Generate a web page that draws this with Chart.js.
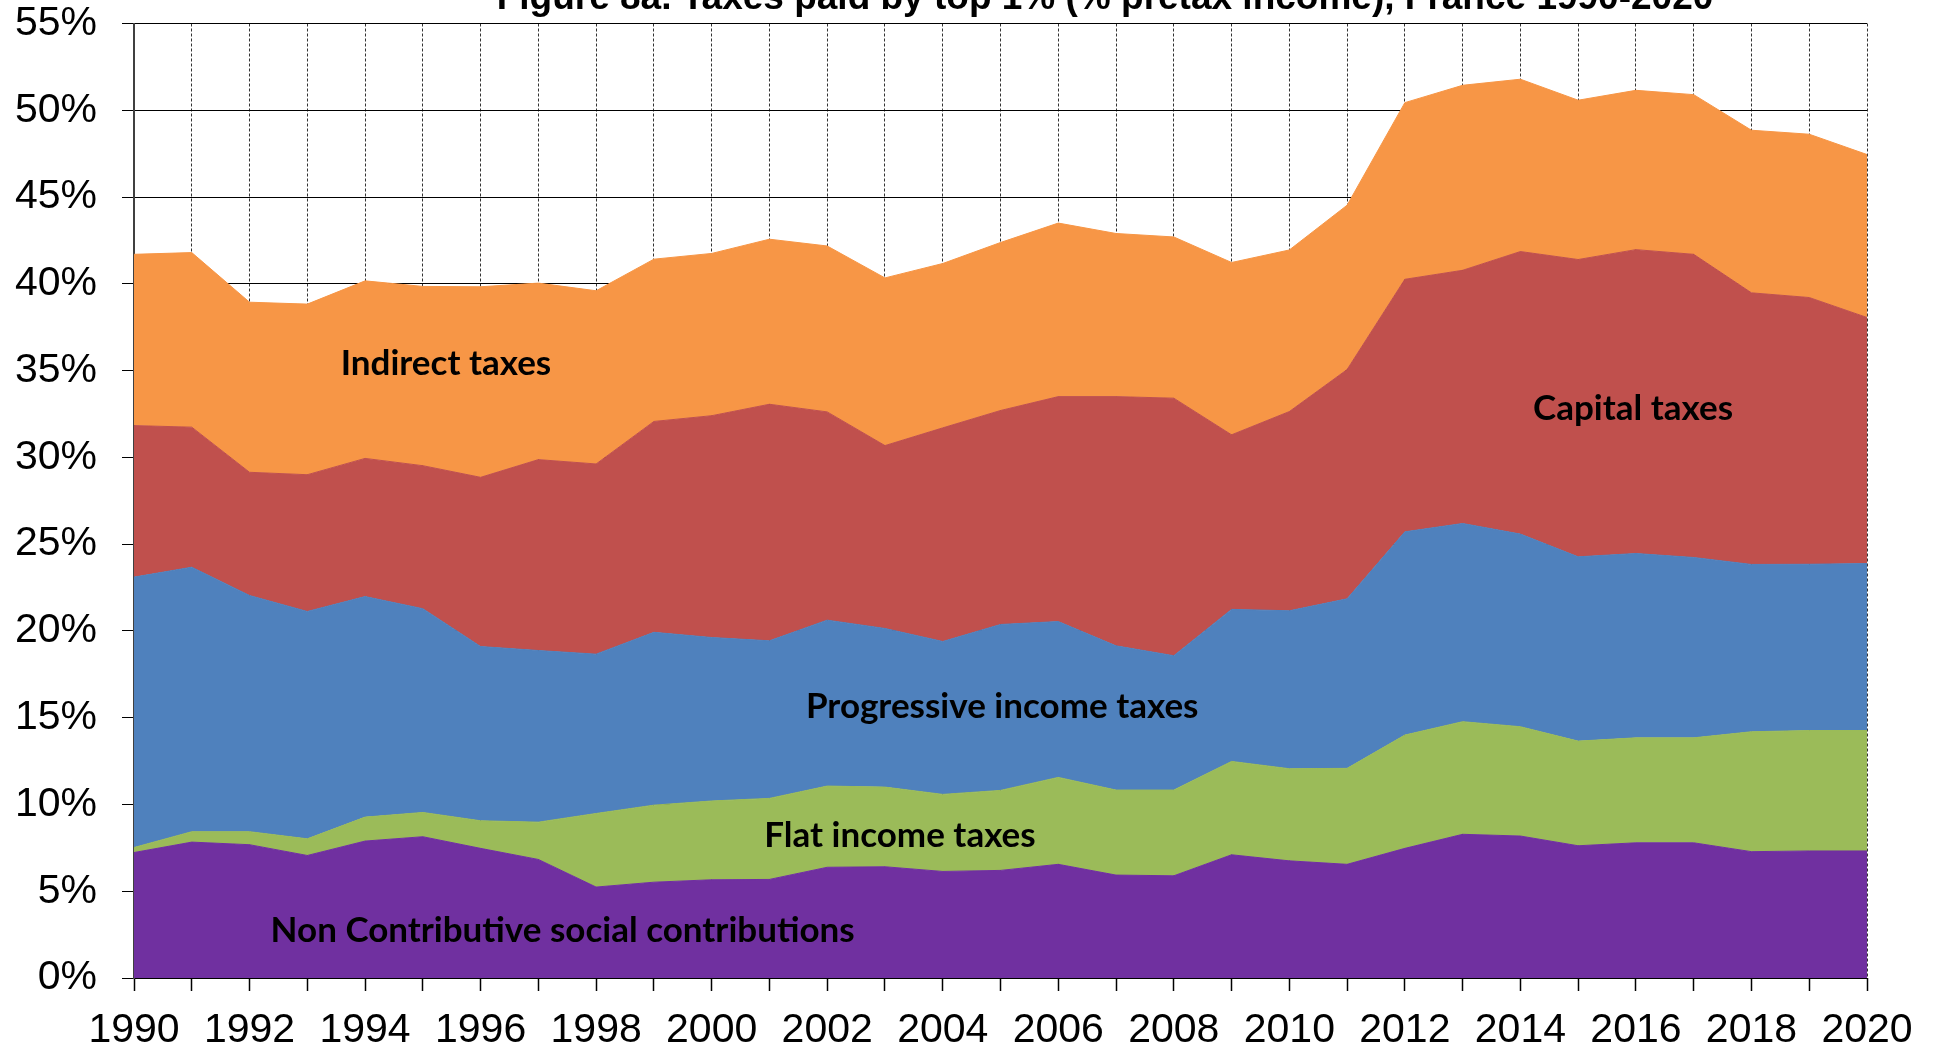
<!DOCTYPE html>
<html>
<head>
<meta charset="utf-8">
<title>Taxes paid by top 1%, France 1990-2020</title>
<script src="https://cdn.jsdelivr.net/npm/chart.js@4.4.1/dist/chart.umd.min.js"></script>
<style>
  html, body { margin: 0; padding: 0; background: #fff; }
  #chart { display: block; }
</style>
</head>
<body>
<canvas id="chart" width="1939" height="1051"></canvas>
<script>
// values are % of pretax income, one entry per year, stacked bottom to top
const years = ['1990', '1991', '1992', '1993', '1994', '1995', '1996', '1997', '1998', '1999',
               '2000', '2001', '2002', '2003', '2004', '2005', '2006', '2007', '2008', '2009',
               '2010', '2011', '2012', '2013', '2014', '2015', '2016', '2017', '2018', '2019', '2020'];

const nonContributive = [7.23, 7.83, 7.68, 7.06, 7.89, 8.14, 7.47, 6.83, 5.24, 5.52,
                         5.66, 5.68, 6.38, 6.41, 6.14, 6.20, 6.55, 5.93, 5.89, 7.10,
                         6.75, 6.55, 7.47, 8.28, 8.18, 7.62, 7.79, 7.79, 7.28, 7.32, 7.32];
const flatIncome = [0.29, 0.60, 0.75, 0.96, 1.38, 1.40, 1.59, 2.15, 4.24, 4.44,
                    4.54, 4.67, 4.68, 4.59, 4.44, 4.61, 5.01, 4.90, 4.94, 5.38,
                    5.31, 5.53, 6.53, 6.49, 6.30, 6.03, 6.05, 6.05, 6.91, 6.94, 6.94];
const progressiveIncome = [15.58, 15.24, 13.61, 13.10, 12.71, 11.74, 10.04, 9.89, 9.18, 9.96,
                           9.42, 9.08, 9.56, 9.14, 8.81, 9.56, 8.98, 8.31, 7.74, 8.76,
                           9.10, 9.77, 11.71, 11.42, 11.10, 10.62, 10.62, 10.39, 9.64, 9.58, 9.62];
const capitalTaxes = [8.73, 8.07, 7.10, 7.88, 7.96, 8.24, 9.75, 11.00, 10.96, 12.15,
                      12.78, 13.63, 12.00, 10.54, 12.31, 12.33, 12.96, 14.36, 14.84, 10.06,
                      11.48, 13.21, 14.55, 14.59, 16.28, 17.13, 17.51, 17.47, 15.65, 15.37, 14.18];
const indirectTaxes = [9.87, 10.06, 9.80, 9.83, 10.23, 10.33, 10.98, 10.17, 9.98, 9.35,
                       9.35, 9.51, 9.56, 9.66, 9.47, 9.68, 10.00, 9.40, 9.29, 9.93,
                       9.31, 9.47, 10.18, 10.66, 9.93, 9.18, 9.18, 9.20, 9.37, 9.41, 9.39];

const seriesNames = ['Non Contributive social contributions', 'Flat income taxes',
                     'Progressive income taxes', 'Capital taxes', 'Indirect taxes'];
const seriesValues = [nonContributive, flatIncome, progressiveIncome, capitalTaxes, indirectTaxes];
const seriesColors = ['#7030A0', '#9BBB59', '#4F81BD', '#C0504D', '#F79646'];

const chartTitle = 'Figure 8a. Taxes paid by top 1% (% pretax income), France 1990-2020';

// where the in-chart labels sit: x = year position, y = % (text baseline)
const areaLabels = [
    { text: 'Indirect taxes', x: 5.40, y: 34.73 },
    { text: 'Capital taxes', x: 25.95, y: 32.14 },
    { text: 'Progressive income taxes', x: 15.03, y: 14.98 },
    { text: 'Flat income taxes', x: 13.26, y: 7.55 },
    { text: 'Non Contributive social contributions', x: 7.42, y: 2.07 }
];

const axisFont = { family: '"Liberation Sans", Arial, sans-serif', size: 41, lineHeight: 1 };

const textPlugin = {
    id: 'areaText',
    afterDatasetsDraw(chart) {
        const ctx = chart.ctx;
        const xs = chart.scales.x;
        const ys = chart.scales.y;
        ctx.save();
        ctx.fillStyle = '#000';
        ctx.textAlign = 'center';
        ctx.textBaseline = 'alphabetic';
        ctx.font = 'bold 35px Lato, "Open Sans", sans-serif';
        areaLabels.forEach(l => {
            ctx.fillText(l.text, xs.getPixelForValue(l.x), ys.getPixelForValue(l.y));
        });
        // title is cut off by the top edge in the original
        ctx.font = 'bold 37px "Liberation Sans", Arial, sans-serif';
        ctx.fillText(chartTitle, 1105, 8.5, 1227);
        ctx.restore();
    }
};

new Chart(document.getElementById('chart'), {
    type: 'line',
    data: {
        labels: years,
        datasets: seriesValues.map((vals, i) => ({
            label: seriesNames[i],
            data: vals,
            backgroundColor: seriesColors[i],
            borderColor: seriesColors[i],
            borderWidth: 1,
            pointRadius: 0,
            tension: 0,
            fill: i === 0 ? 'origin' : '-1'
        }))
    },
    options: {
        responsive: false,
        animation: false,
        devicePixelRatio: 1,
        layout: { padding: { top: 23.5, right: 72, bottom: 0, left: 0 } },
        plugins: {
            legend: { display: false },
            tooltip: { enabled: false },
            title: { display: false }
        },
        scales: {
            x: {
                offset: false,
                grid: {
                    color: '#333',
                    lineWidth: 1,
                    tickLength: 13,
                    tickColor: '#000',
                    tickWidth: 1.5
                },
                border: { display: false, dash: [3, 2] },
                ticks: {
                    autoSkip: false,
                    maxRotation: 0,
                    color: '#000',
                    font: axisFont,
                    padding: 19,
                    callback: function (val, i) {
                        return i % 2 === 0 ? this.getLabelForValue(val) : '';
                    }
                },
                afterFit(scale) { scale.height = 73; }
            },
            y: {
                stacked: true,
                min: 0,
                max: 55,
                grid: {
                    color: '#000',
                    lineWidth: 1,
                    tickLength: 12
                },
                border: { display: true, color: '#404040', width: 2 },
                ticks: {
                    stepSize: 5,
                    color: '#000',
                    font: axisFont,
                    padding: 25,
                    callback: v => v + '%'
                },
                afterFit(scale) {
                    scale.width = 134;
                    // let the top label hang above the plot like the original
                    scale.paddingTop = 0;
                    scale.paddingBottom = 0;
                }
            }
        }
    },
    plugins: [textPlugin]
});
</script>
</body>
</html>
